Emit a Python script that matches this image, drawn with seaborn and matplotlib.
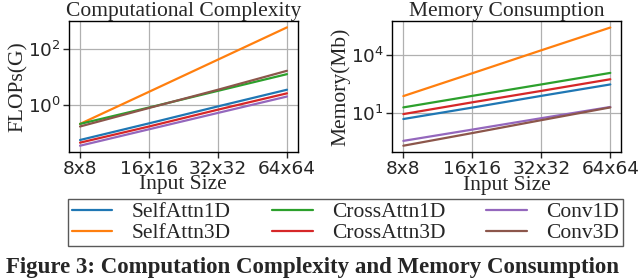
import numpy as np
import pandas as pd
import matplotlib
matplotlib.use("Agg")
import matplotlib.pyplot as plt
import seaborn as sns
from matplotlib.ticker import NullLocator

sns.set_style("ticks")
plt.rcParams["font.family"] = ["Liberation Serif", "DejaVu Serif"]
plt.rcParams["axes.edgecolor"] = "black"
plt.rcParams["axes.linewidth"] = 1.0

# data (log-spaced, approx)
sizes = ["8x8", "16x16", "32x32", "64x64"]
models = ["SelfAttn1D", "SelfAttn3D", "CrossAttn1D", "CrossAttn3D", "Conv1D", "Conv3D"]

flops_self1d = [0.056, 0.22, 0.89, 3.5]
flops_self3d = [0.21, 2.95, 41.7, 590]
flops_cross1d = [0.21, 0.81, 3.2, 12.6]
flops_cross3d = [0.045, 0.17, 0.68, 2.6]
flops_conv1d = [0.035, 0.135, 0.52, 2.0]
flops_conv3d = [0.17, 0.78, 3.5, 16.6]

mem_self1d = [4.7, 18.6, 76, 300]
mem_self3d = [74, 1150, 18200, 280000]
mem_cross1d = [19, 76, 300, 1200]
mem_cross3d = [8.5, 35, 138, 560]
mem_conv1d = [0.34, 1.32, 5.2, 20]
mem_conv3d = [0.19, 0.87, 4.1, 19]

flops = [flops_self1d, flops_self3d, flops_cross1d, flops_cross3d, flops_conv1d, flops_conv3d]
mem = [mem_self1d, mem_self3d, mem_cross1d, mem_cross3d, mem_conv1d, mem_conv3d]

rows = []
for m, f, me in zip(models, flops, mem):
    for i, s in enumerate(sizes):
        rows.append({"model": m, "pos": i, "size": s, "flops": f[i], "mem": me[i]})
df = pd.DataFrame(rows)

palette = sns.color_palette("tab10", 6)

fig = plt.figure(figsize=(6.4, 2.8), dpi=100)
ax1 = fig.add_axes([0.1078, 0.4582, 0.3573, 0.4679])
ax2 = fig.add_axes([0.6130, 0.4571, 0.3573, 0.4680])

sns.lineplot(data=df, x="pos", y="flops", hue="model", hue_order=models,
             palette=palette, linewidth=1.6, ax=ax1)
sns.lineplot(data=df, x="pos", y="mem", hue="model", hue_order=models,
             palette=palette, linewidth=1.6, ax=ax2, legend=False)

handles, labels = ax1.get_legend_handles_labels()
ax1.get_legend().remove()

settings = [
    (ax1, "Computational Complexity", "FLOPs(G)", [1, 100], (10 ** -1.67, 10 ** 3.01)),
    (ax2, "Memory Consumption", "Memory(Mb)", [10, 10000], (10 ** -1.05, 10 ** 5.79)),
]
for ax, title, ylab, yt, ylim in settings:
    ax.set_yscale("log")
    ax.set_ylim(*ylim)
    ax.set_yticks(yt)
    ax.yaxis.set_minor_locator(NullLocator())
    ax.set_xticks(range(len(sizes)))
    ax.set_xticklabels(sizes)
    ax.set_xlim(-0.16, 3.155)
    ax.grid(True, color="#b0b0b0", linewidth=0.9)
    ax.set_title(title, fontsize=15.5, pad=2)
    ax.set_xlabel("Input Size", fontsize=15.5, labelpad=-2)
    ax.set_ylabel(ylab, fontsize=15.5, labelpad=0)
    for lab in ax.get_xticklabels() + ax.get_yticklabels():
        lab.set_fontfamily("DejaVu Sans")
        lab.set_fontsize(13.3)
    ax.tick_params(length=4, width=1, pad=2)
    for sp in ax.spines.values():
        sp.set_visible(True)

fig.legend(handles, labels, ncol=3, mode="expand", loc="center",
           bbox_to_anchor=(68.3 / 640, 0.1214, 554.4 / 640, 0.1668),
           fontsize=15.5, fancybox=False, edgecolor="0.35", framealpha=1,
           labelspacing=0.05, handlelength=1.9, handletextpad=0.9,
           borderpad=0.15, borderaxespad=0)

# caption under the figure (clipped in the source crop, kept fully visible here)
fig.text(0.009, 0.006, "Figure 3: Computation Complexity and Memory Consumption",
         fontsize=16.5, fontweight="bold", va="bottom", ha="left")

fig.savefig("out.png", dpi=100)
